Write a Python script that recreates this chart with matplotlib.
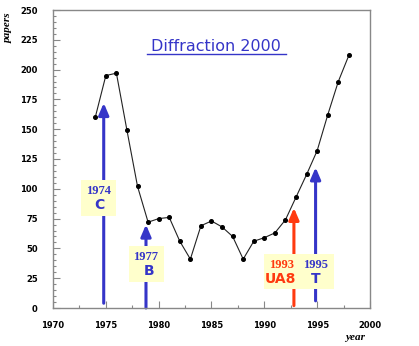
import matplotlib
matplotlib.use("Agg")
import matplotlib.pyplot as plt
from matplotlib.patches import Rectangle
from matplotlib.ticker import MultipleLocator

years = list(range(1974, 1999))
papers = [160, 195, 197, 149, 102, 72, 75, 76, 56, 41, 69, 73, 68, 60, 41,
          56, 59, 63, 74, 93, 112, 132, 162, 190, 212]

# arrows: x position, bottom, tip, colour
arrow_x = [1974.8, 1978.8, 1992.8, 1994.85]
arrow_y0 = [4, 0, 2, 6]
arrow_y1 = [172, 70, 84, 118]
arrow_col = ["#3535c8", "#3535c8", "#ff3a10", "#3535c8"]

# label boxes (x0, x1, y0, y1)
box_x0 = [1972.65, 1977.2, 1990.0]
box_x1 = [1976.0, 1980.5, 1996.6]
box_y0 = [77.4, 21.8, 15.7]
box_y1 = [107, 52, 45]

year_labels = ["1974", "1977", "1993", "1995"]
year_lx = [1974.33, 1978.78, 1991.6, 1994.88]
year_ly = [98, 42.5, 36, 36]
name_labels = ["C", "B", "UA8", "T"]
name_lx = [1974.4, 1979.05, 1991.57, 1994.85]
name_ly = [86.4, 31.3, 24, 24]
label_col = ["#3535c8", "#3535c8", "#ff3a10", "#3535c8"]

fig = plt.figure(figsize=(4.19, 3.46), dpi=100)
ax = fig.add_axes([53/419, 1-308/346, 317/419, 298/346])

ax.set_xlim(1970, 2000)
ax.set_ylim(0, 250)

ax.plot(years, papers, color="#222222", lw=0.8, marker="o", ms=2.6,
        mfc="black", mec="black", zorder=3)

for x, y0, y1, c in zip(arrow_x, arrow_y0, arrow_y1, arrow_col):
    ax.annotate("", xy=(x, y1), xytext=(x, y0),
                arrowprops=dict(arrowstyle="-|>,head_length=0.7,head_width=0.3",
                                color=c, lw=2.2, shrinkA=0, shrinkB=0),
                zorder=2)

for x0, x1, y0, y1 in zip(box_x0, box_x1, box_y0, box_y1):
    ax.add_patch(Rectangle((x0, y0), x1 - x0, y1 - y0, facecolor="#ffffcc",
                           edgecolor="none", zorder=4))

for t, x, y, c in zip(year_labels, year_lx, year_ly, label_col):
    ax.text(x, y, t, color=c, fontsize=9, fontweight="bold",
            family="Liberation Serif", ha="center", va="center", zorder=5)
for t, x, y, c in zip(name_labels, name_lx, name_ly, label_col):
    ax.text(x, y, t, color=c, fontsize=10, fontweight="bold",
            family="DejaVu Sans", ha="center", va="center", zorder=5)

# title with underline
ax.text(0.514, 0.876, "Diffraction 2000", transform=ax.transAxes,
        color="#3535c8", fontsize=11.5, ha="center", va="center",
        family="DejaVu Sans")
ax.plot([0.295, 0.735], [0.853, 0.853], transform=ax.transAxes,
        color="#3535c8", lw=1.0)

for s in ax.spines.values():
    s.set_color("#888888")
    s.set_linewidth(1.0)

ax.xaxis.set_major_locator(MultipleLocator(5))
ax.xaxis.set_minor_locator(MultipleLocator(2.5))
ax.yaxis.set_major_locator(MultipleLocator(25))
ax.yaxis.set_minor_locator(MultipleLocator(5))
ax.tick_params(which="both", direction="in", colors="#888888",
               labelcolor="black", top=False, right=False)
ax.tick_params(which="major", length=5, width=0.8)
ax.tick_params(which="minor", length=2.5, width=0.8)
ax.tick_params(axis="y", pad=11)
ax.tick_params(axis="x", pad=9)
for lab in ax.get_xticklabels() + ax.get_yticklabels():
    lab.set_fontsize(6)
    lab.set_fontweight("bold")

fig.text(8/419, 1-28/346, "papers", rotation=90, fontsize=8, style="italic",
         fontweight="bold", family="Liberation Serif", ha="center", va="center")
fig.text(355/419, 1-338/346, "year", fontsize=8, style="italic",
         fontweight="bold", family="Liberation Serif", ha="center", va="center")

fig.savefig("out.png", dpi=100)
